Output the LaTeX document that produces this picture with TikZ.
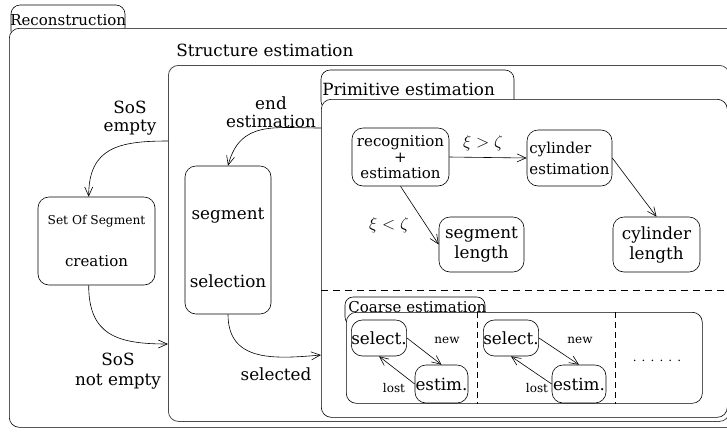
\documentclass[tikz,border=0pt]{standalone}
\usepackage{fontspec}
\setmainfont{DejaVu Serif}
\usetikzlibrary{arrows.meta}
\newcommand\bigsz{\fontsize{16.8}{18}\selectfont}
\newcommand\midsz{\fontsize{15}{16}\selectfont}
\newcommand\smallsz{\fontsize{12.2}{14}\selectfont}
\newcommand\tinysz{\fontsize{12}{14}\selectfont}

\begin{document}
\begin{tikzpicture}[x=1pt, y=-1pt, line width=0.6pt, font=\bigsz,
		state/.style={draw, rounded corners=11pt, inner sep=0pt, align=center},
		frame/.style={draw, fill=white, rounded corners=10pt, inner sep=0pt, anchor=north west},
		tab/.style={draw, rounded corners=9pt},
		title/.style={anchor=base west, inner sep=0pt},
		arr/.style={-{Straight Barb[length=9pt, width=8pt]}}]
		\useasboundingbox (0,0) rectangle (727,432);
		\clip (0,0) rectangle (727,432);
		\draw[tab] (11,40) rectangle (125,5);
		\node[frame, minimum width=740pt, minimum height=399pt](recon)at(9,28){};
		\node[title, font=\midsz](recontitle)at(10,25){Reconstruction};
		\node[title](structtitle)at(176,56){Structure estimation};
		\node[frame, minimum width=561pt, minimum height=356pt, draw=black!70, line width=0.8pt](struct)at(168,65){};
		\draw[tab] (321,110) rectangle (514,70);
		\node[frame, minimum width=406pt, minimum height=318pt](prim)at(321,99){};
		\node[title](primtitle)at(322,95){Primitive estimation};
		\draw[dash pattern=on 7pt off 5pt] ([yshift=-191pt]prim.north west)--([yshift=-191pt]prim.north east);
		\draw[tab, rounded corners=8pt] (345,325) rectangle (485,297);
		\node[frame, minimum width=356pt, minimum height=91pt](coarse)at(346,312){};
		\node[title, font=\midsz](coarsetitle)at(348,312){Coarse estimation};
		\draw[dash pattern=on 6pt off 4pt] ([xshift=131pt]coarse.north west)--([xshift=131pt]coarse.south west);
		\draw[dash pattern=on 6pt off 4pt] ([xshift=269pt]coarse.north west)--([xshift=269pt]coarse.south west);
		\node[state, minimum width=117pt, minimum height=88pt, font=\midsz](sos)at(96.5,241){\smallsz Set Of Segment\\[26pt]creation};
		\node[state, minimum width=86pt, minimum height=148pt](segsel)at(228,240){\rule{0pt}{28pt}segment\\[50pt]selection};
		\node[state, minimum width=97pt, minimum height=58pt, font=\midsz](rec)at(400.5,157){recognition\\+\\estimation};
		\node[state, minimum width=85pt, minimum height=56pt, align=left, font=\midsz](cylest)at(569.5,158){cylinder\\[5pt]estimation};
		\node[state, minimum width=85pt, minimum height=55pt](seglen)at(481.5,244.5){segment\\[2pt]length};
		\node[state, minimum width=87pt, minimum height=55pt](cyllen)at(656.5,244.5){cylinder\\[2pt]length};
		\node[state, minimum width=54pt, minimum height=36pt](sel1)at(379,338){select.};
		\node[state, minimum width=53pt, minimum height=38pt](est1)at(441.5,384){estim.};
		\node[state, minimum width=54pt, minimum height=36pt](sel2)at(511,338){select.};
		\node[state, minimum width=54pt, minimum height=38pt](est2)at(579,384){estim.};
		\node[font=\tinysz](dots)at(657,361){. . . . . .};
		\draw[arr]([yshift=-76pt]struct.north west) to[out=180, in=90, looseness=1.3] (sos.100);
		\draw[arr](sos.260) to[out=-90, in=180, looseness=1.3] ([yshift=-279pt]struct.north west);
		\draw[arr]([yshift=-29pt]prim.north west) to[out=180, in=75, looseness=1.2] (segsel.north);
		\draw[arr](segsel.south) to[out=-90, in=185, looseness=1.2] ([yshift=-256pt]prim.north west);
		\draw[arr](rec.east)--(cylest.west);
		\draw[arr](rec.south)--(seglen.west);
		\draw[arr](cylest.east)--(cyllen.north);
		\draw[arr](sel1.east)--(est1.north);
		\draw[arr](est1.west)--(sel1.south);
		\draw[arr](sel2.east)--(est2.north);
		\draw[arr](est2.west)--(sel2.south);
		\node[align=center](empty)at(130,118){SoS\\empty};
		\node[align=center](endest)at(271,112){end\\estimation};
		\node[align=center](notempty)at(118,371){SoS\\[2pt]not empty};
		\node(selected)at(276,374){selected};
		\node(gt)at(483,143){$\xi>\zeta$};
		\node(lt)at(389,225){$\xi<\zeta$};
		\node[font=\tinysz](new1)at(447,340){new};
		\node[font=\tinysz](lost1)at(394,388){lost};
		\node[font=\tinysz](new2)at(580,340){new};
		\node[font=\tinysz](lost2)at(537,388){lost};
	\end{tikzpicture}
\end{document}
